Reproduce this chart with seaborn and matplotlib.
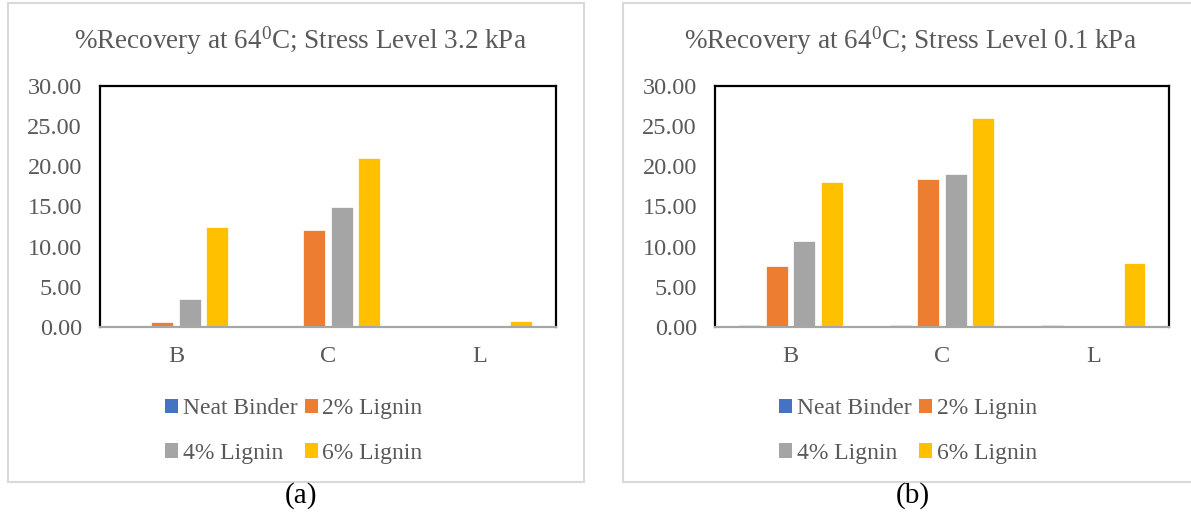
import matplotlib
matplotlib.use("Agg")
import matplotlib.pyplot as plt
from matplotlib.patches import Rectangle
import seaborn as sns
import pandas as pd

sns.set_theme(style="white")
plt.rcParams["font.family"] = ["Liberation Serif", "DejaVu Serif"]
plt.rcParams["mathtext.fontset"] = "custom"
plt.rcParams["mathtext.rm"] = "Liberation Serif"
plt.rcParams["mathtext.it"] = "Liberation Serif:italic"

# Data
binders = ["B", "C", "L"]
series = ["Neat Binder", "2% Lignin", "4% Lignin", "6% Lignin"]
colors = ["#4472C4", "#ED7D31", "#A5A5A5", "#FFC000"]

recovery_3_2 = {
    "Neat Binder": [0.0, 0.0, 0.0],
    "2% Lignin": [0.6, 12.1, 0.0],
    "4% Lignin": [3.5, 15.0, 0.0],
    "6% Lignin": [12.4, 21.0, 0.75],
}
recovery_0_1 = {
    "Neat Binder": [0.2, 0.2, 0.2],
    "2% Lignin": [7.55, 18.4, 0.0],
    "4% Lignin": [10.7, 19.1, 0.0],
    "6% Lignin": [18.1, 26.0, 8.0],
}
titles = [
    r"%Recovery at 64$^{0}$C; Stress Level 3.2 kPa",
    r"%Recovery at 64$^{0}$C; Stress Level 0.1 kPa",
]
panel_labels = ["(a)", "(b)"]
y_ticks = [0, 5, 10, 15, 20, 25, 30]

W, H = 1191, 519
fig = plt.figure(figsize=(W / 100, H / 100), dpi=100)
text_col = "#595959"


def px_box(x0, y0, x1, y1):
    return [x0 / W, 1 - y1 / H, (x1 - x0) / W, (y1 - y0) / H]


panels = [
    dict(frame=(8, 3, 584, 482), ax=(100, 86, 556, 327), title_x=300, lab_x=301, leg_x=294),
    dict(frame=(623, 3, 1196, 482), ax=(715, 86, 1169, 327), title_x=910, lab_x=913, leg_x=908),
]

# legend entries ordered so the two rows read left to right
leg_order = [0, 2, 1, 3]

for p, data, title, lab in zip(panels, [recovery_3_2, recovery_0_1], titles, panel_labels):
    fx0, fy0, fx1, fy1 = p["frame"]
    fig.patches.append(Rectangle((fx0 / W, 1 - fy1 / H), (fx1 - fx0) / W, (fy1 - fy0) / H,
                                 transform=fig.transFigure, facecolor="white",
                                 edgecolor="#D9D9D9", linewidth=1.5, zorder=-5))

    df = pd.DataFrame([
        {"Binder": b, "Series": s, "Value": data[s][i]}
        for s in series for i, b in enumerate(binders)
    ])

    ax = fig.add_axes(px_box(*p["ax"]))
    ax.set_zorder(2)
    sns.barplot(data=df, x="Binder", y="Value", hue="Series", hue_order=series,
                order=binders, palette=colors, saturation=1, width=0.725, gap=0.2,
                edgecolor="white", linewidth=0.5, ax=ax, legend=False)
    ax.set_ylim(0, 30)
    ax.set_yticks(y_ticks)
    ax.set_yticklabels([f"{v:.2f}" for v in y_ticks])
    ax.set_xlabel("")
    ax.set_ylabel("")
    ax.tick_params(axis="both", length=0, labelsize=17.5, colors=text_col)
    ax.tick_params(axis="y", pad=13)
    ax.tick_params(axis="x", pad=14)
    for side in ["top", "left", "right"]:
        ax.spines[side].set_color("black")
        ax.spines[side].set_linewidth(1.6)
    ax.spines["bottom"].set_color("#A6A6A6")
    ax.spines["bottom"].set_linewidth(1.6)

    fig.text(p["title_x"] / W, 1 - 41 / H, title, ha="center", va="center",
             fontsize=19.5, color=text_col)

    handles = [Rectangle((0, 0), 1, 1, facecolor=c, edgecolor="none") for c in colors]
    leg = fig.legend([handles[i] for i in leg_order], [series[i] for i in leg_order],
                     ncol=2, loc="upper center",
                     bbox_to_anchor=(p["leg_x"] / W, 1 - 377 / H),
                     frameon=False, fontsize=17, handlelength=0.55, handleheight=0.55,
                     handletextpad=0.2, columnspacing=0.3, labelspacing=1.0)
    for t in leg.get_texts():
        t.set_color(text_col)

    fig.text(p["lab_x"] / W, 1 - 496 / H, lab, ha="center", va="center",
             fontsize=21, color="black")

fig.savefig("out.png", dpi=100)
